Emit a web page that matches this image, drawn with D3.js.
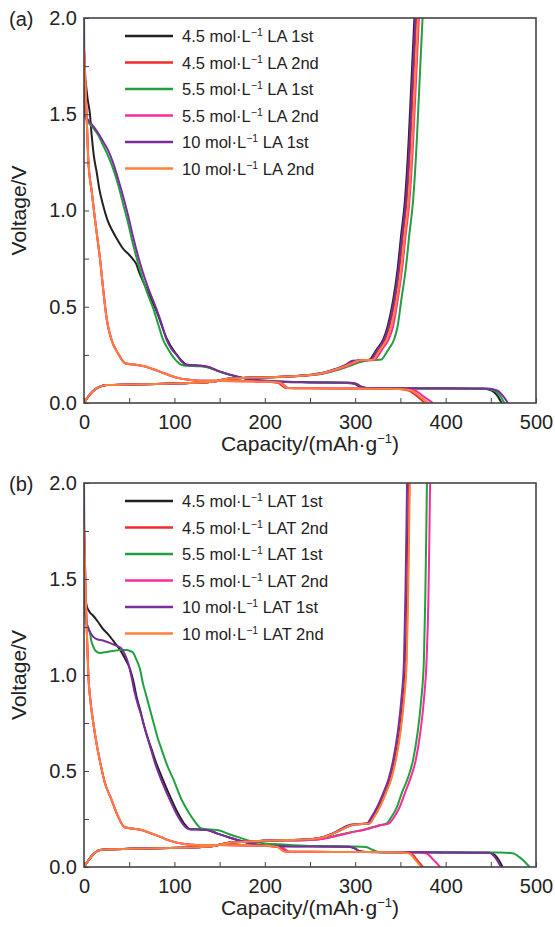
<!DOCTYPE html>
<html>
<head>
<meta charset="utf-8">
<script src="https://cdn.jsdelivr.net/npm/d3@7"></script>
<style>
  body { margin: 0; background: #fff; }
  text { font-family: "Liberation Sans", Arial, Helvetica, sans-serif; fill: #222; }
</style>
</head>
<body>
<div id="chart"></div>
<script>
// Axis ticks.
const xTicks = [0, 100, 200, 300, 400, 500];
const xMinor = [50, 150, 250, 350, 450];
const yTicks = [0, 0.5, 1.0, 1.5, 2.0];
const yMinor = [0.25, 0.75, 1.25, 1.75];

// Legend.
const concs = ["4.5", "4.5", "5.5", "5.5", "10", "10"];
const cycles = ["1st", "2nd", "1st", "2nd", "1st", "2nd"];
const colors = ["#222222", "#f02b2b", "#22a03e", "#ff2a9c", "#7b2d9c", "#ff7f3c"];

// (a) LA, [capacity mAh/g, voltage V].
const la45_1st_dis = [[0,1.72],[2,1.66],[4,1.58],[6.6,1.5],[8.5,1.39],[11,1.28],[14,1.2],[17,1.11],[21,1.03],[26,0.95],[32,0.89],[38,0.84],[43.5,0.8],[49,0.775],[54.5,0.745],[58,0.72],[61,0.68],[65,0.635],[72,0.565],[80,0.48],[91,0.34],[101,0.26],[108,0.22],[113,0.2],[120,0.196],[130,0.193],[137,0.187],[150,0.163],[169,0.137],[187,0.12],[210,0.112],[250,0.107],[290,0.104],[299,0.1],[305,0.085],[312,0.077],[350,0.076],[400,0.075],[442,0.074],[451,0.065],[457,0.04],[462,0]];
const la45_1st_chg = [[0,0],[5,0.035],[10,0.062],[17.7,0.085],[25,0.093],[50,0.096],[80,0.099],[106,0.102],[130,0.106],[143,0.11],[152,0.12],[161.5,0.127],[180,0.131],[198,0.133],[225,0.138],[250,0.146],[265,0.156],[276,0.171],[288,0.19],[298,0.212],[304,0.222],[316,0.225],[320,0.25],[324,0.28],[331,0.33],[336,0.4],[342,0.535],[347,0.7],[351,0.88],[355,1.05],[359,1.35],[362,1.65],[364,1.85],[366,2.05]];
const la45_2nd_dis = [[0,1.84],[1,1.74],[2,1.6],[3,1.48],[4.8,1.26],[8.5,1.1],[12,0.96],[15,0.85],[17.7,0.75],[21,0.6],[25,0.44],[30.5,0.327],[38,0.255],[46,0.205],[55,0.2],[65.6,0.192],[75,0.178],[84,0.163],[95,0.143],[106,0.128],[118,0.12],[128,0.116],[150,0.115],[180,0.113],[205,0.11],[215,0.105],[219,0.09],[223,0.078],[250,0.076],[300,0.075],[348,0.073],[359,0.065],[367,0.04],[377,0]];
const la45_2nd_chg = [[0,0],[5,0.035],[10,0.062],[17.7,0.085],[25,0.093],[50,0.096],[80,0.099],[106,0.102],[130,0.106],[143,0.11],[152,0.12],[161.5,0.127],[180,0.131],[198,0.133],[225,0.138],[250,0.146],[265,0.156],[276,0.171],[288,0.19],[298,0.21],[305,0.222],[318,0.225],[322,0.25],[326,0.28],[333,0.33],[338,0.4],[344,0.535],[349,0.7],[353,0.88],[357,1.05],[361,1.35],[364,1.65],[366,1.85],[368,2.05]];
const la55_1st_dis = [[0,1.56],[0.5,1.5],[3,1.47],[10,1.43],[16,1.39],[21,1.34],[27,1.28],[32,1.22],[38,1.13],[43.5,1.03],[49,0.93],[54.5,0.82],[62,0.69],[69,0.585],[76.7,0.49],[82,0.41],[87.7,0.327],[93,0.28],[97,0.25],[103,0.215],[108,0.197],[115,0.193],[125,0.191],[136,0.186],[150,0.163],[169,0.137],[187,0.121],[210,0.113],[250,0.108],[290,0.105],[301,0.1],[307,0.085],[314,0.077],[350,0.076],[400,0.075],[444,0.074],[454,0.065],[460,0.04],[465,0]];
const la55_1st_chg = [[0,0],[5,0.035],[10,0.062],[17.7,0.085],[25,0.093],[50,0.096],[80,0.099],[106,0.102],[130,0.106],[143,0.11],[152,0.12],[161.5,0.127],[180,0.131],[198,0.133],[225,0.137],[250,0.144],[265,0.153],[276,0.166],[288,0.183],[298,0.2],[308,0.215],[316,0.222],[329,0.226],[333,0.25],[337,0.28],[343,0.33],[347,0.4],[351,0.535],[356,0.7],[360,0.88],[364,1.05],[368,1.35],[371,1.65],[373,1.85],[375,2.05]];
const la55_2nd_dis = [[0,1.84],[1,1.74],[2,1.6],[3,1.48],[4.8,1.26],[8.5,1.1],[12,0.96],[15,0.85],[17.7,0.75],[21,0.6],[25,0.44],[30.5,0.327],[38,0.255],[46,0.205],[55,0.2],[65.6,0.192],[75,0.178],[84,0.163],[95,0.143],[106,0.128],[118,0.12],[128,0.116],[150,0.115],[180,0.113],[205,0.11],[218,0.105],[222,0.09],[226,0.078],[250,0.076],[300,0.075],[352,0.073],[366,0.065],[374,0.04],[386,0]];
const la55_2nd_chg = [[0,0],[5,0.035],[10,0.062],[17.7,0.085],[25,0.093],[50,0.096],[80,0.099],[106,0.102],[130,0.106],[143,0.11],[152,0.12],[161.5,0.127],[180,0.131],[198,0.133],[225,0.138],[250,0.145],[265,0.155],[276,0.169],[288,0.187],[298,0.206],[306,0.22],[322,0.225],[326,0.25],[330,0.28],[337,0.33],[342,0.4],[347,0.535],[352,0.7],[356,0.88],[360,1.05],[364,1.35],[367,1.65],[369,1.85],[371,2.05]];
const la10_1st_dis = [[0,2.05],[0.3,1.8],[0.6,1.5],[3,1.48],[10,1.44],[16,1.4],[21,1.36],[27,1.31],[32,1.25],[38,1.16],[43.5,1.07],[49,0.97],[54.5,0.86],[60,0.76],[65,0.68],[72,0.585],[80,0.49],[86,0.41],[91.5,0.327],[97,0.28],[102.5,0.25],[108,0.215],[113.6,0.197],[120,0.196],[130,0.193],[137,0.188],[150,0.164],[169,0.138],[187,0.121],[210,0.113],[250,0.108],[290,0.106],[300,0.101],[306,0.086],[313,0.078],[350,0.077],[400,0.076],[446,0.075],[457,0.065],[463,0.04],[469,0]];
const la10_1st_chg = [[0,0],[5,0.035],[10,0.062],[17.7,0.085],[25,0.093],[50,0.096],[80,0.099],[106,0.102],[130,0.106],[143,0.11],[152,0.12],[161.5,0.127],[180,0.131],[198,0.133],[225,0.138],[250,0.147],[265,0.158],[276,0.174],[288,0.195],[294,0.212],[297,0.22],[310,0.222],[317,0.226],[321,0.25],[325,0.28],[332,0.33],[337,0.4],[343,0.535],[348,0.7],[352,0.88],[356,1.05],[360,1.35],[363,1.65],[365,1.85],[367,2.05]];
const la10_2nd_dis = [[0,1.84],[1,1.74],[2,1.6],[3,1.48],[4.8,1.26],[8.5,1.1],[12,0.96],[15,0.85],[17.7,0.75],[21,0.6],[25,0.44],[30.5,0.327],[38,0.255],[46,0.205],[55,0.2],[65.6,0.192],[75,0.178],[84,0.163],[95,0.143],[106,0.128],[118,0.12],[128,0.116],[150,0.115],[180,0.113],[205,0.11],[217,0.105],[221,0.09],[225,0.078],[250,0.076],[300,0.075],[350,0.073],[362,0.065],[370,0.04],[381,0]];
const la10_2nd_chg = [[0,0],[5,0.035],[10,0.062],[17.7,0.085],[25,0.093],[50,0.096],[80,0.099],[106,0.102],[130,0.106],[143,0.11],[152,0.12],[161.5,0.127],[180,0.131],[198,0.133],[225,0.138],[250,0.146],[265,0.156],[276,0.171],[288,0.19],[298,0.21],[305,0.222],[320,0.225],[324,0.25],[328,0.28],[335,0.33],[340,0.4],[346,0.535],[351,0.7],[355,0.88],[359,1.05],[363,1.35],[366,1.65],[368,1.85],[370,2.05]];

// (b) LAT, [capacity mAh/g, voltage V].
const lat45_1st_dis = [[0,1.48],[1,1.42],[3,1.36],[6,1.33],[10,1.31],[15,1.28],[21,1.24],[27,1.21],[32,1.18],[40,1.13],[46,1.08],[51,1.03],[55,0.96],[58,0.89],[62,0.82],[65.6,0.75],[70,0.68],[75,0.61],[80,0.54],[86,0.47],[95,0.37],[104,0.28],[111,0.225],[117,0.198],[125,0.196],[136,0.193],[147,0.175],[158,0.158],[169,0.142],[180,0.128],[191,0.117],[202,0.111],[250,0.108],[294,0.106],[300,0.096],[305,0.082],[312,0.078],[350,0.077],[400,0.076],[449,0.074],[455,0.06],[459,0.035],[463,0]];
const lat45_1st_chg = [[0,0],[5,0.035],[10,0.065],[17.7,0.089],[28,0.092],[60,0.096],[106,0.1],[130,0.104],[143,0.109],[152,0.118],[161.5,0.127],[180,0.132],[198,0.137],[225,0.14],[250,0.144],[265,0.155],[276,0.175],[285,0.195],[294,0.215],[300,0.222],[315,0.227],[320,0.26],[326,0.31],[333,0.385],[339,0.46],[344,0.557],[349,0.7],[353,0.87],[356,1.08],[357.5,1.4],[358.5,1.7],[359.5,2.05]];
const lat45_2nd_dis = [[0,1.78],[1,1.6],[2,1.4],[3,1.25],[4.8,1.0],[7,0.87],[10.3,0.75],[14,0.64],[17.7,0.55],[23,0.44],[30.5,0.35],[37,0.27],[45,0.207],[53,0.2],[63.7,0.193],[73,0.177],[84,0.158],[93,0.14],[102.5,0.127],[113,0.119],[125,0.115],[150,0.114],[180,0.112],[205,0.109],[216,0.104],[220,0.09],[224,0.08],[250,0.079],[300,0.078],[348,0.077],[362,0.07],[368,0.04],[375,0]];
const lat45_2nd_chg = [[0,0],[5,0.035],[10,0.065],[17.7,0.089],[28,0.092],[60,0.096],[106,0.1],[130,0.104],[143,0.109],[152,0.118],[161.5,0.127],[180,0.132],[198,0.137],[225,0.14],[250,0.144],[265,0.155],[276,0.175],[285,0.195],[294,0.215],[300,0.222],[315.5,0.227],[320.5,0.26],[326.5,0.31],[333.5,0.385],[339.5,0.46],[344.5,0.557],[349.5,0.7],[353.5,0.87],[356.5,1.08],[358,1.4],[359,1.7],[360,2.05]];
const lat55_1st_dis = [[0,1.38],[1,1.32],[3,1.27],[6.6,1.22],[8,1.18],[10,1.15],[13,1.125],[17.7,1.115],[25,1.12],[32,1.125],[40,1.13],[47,1.13],[51,1.125],[54.5,1.115],[58,1.08],[62,1.03],[65,0.96],[69,0.89],[73,0.82],[77,0.75],[81,0.68],[86,0.61],[92,0.53],[99,0.455],[108,0.35],[115,0.29],[122,0.24],[130,0.2],[140,0.195],[150,0.19],[160,0.172],[169,0.158],[187,0.132],[200,0.123],[217,0.118],[250,0.11],[300,0.107],[312,0.104],[319,0.09],[327,0.077],[400,0.076],[460,0.075],[474,0.072],[482,0.05],[488,0.025],[493,0]];
const lat55_1st_chg = [[0,0],[5,0.035],[10,0.065],[17.7,0.089],[28,0.092],[60,0.096],[106,0.1],[130,0.104],[143,0.109],[152,0.118],[161.5,0.127],[180,0.132],[198,0.136],[225,0.138],[250,0.14],[265,0.148],[276,0.16],[294,0.18],[312,0.197],[325,0.215],[335,0.227],[340,0.26],[346,0.31],[351.5,0.385],[358,0.46],[364,0.557],[369,0.7],[373,0.87],[376,1.08],[377.5,1.4],[378.5,1.7],[379.5,2.05]];
const lat55_2nd_dis = [[0,1.78],[1,1.6],[2,1.4],[3,1.25],[4.8,1.0],[7,0.87],[10.3,0.75],[14,0.64],[17.7,0.55],[23,0.44],[30.5,0.35],[37,0.27],[45,0.207],[53,0.2],[63.7,0.193],[73,0.177],[84,0.158],[93,0.14],[102.5,0.127],[113,0.119],[125,0.115],[150,0.114],[180,0.112],[205,0.109],[219,0.104],[223,0.09],[227,0.08],[250,0.079],[300,0.078],[365,0.077],[379,0.07],[386,0.04],[394,0]];
const lat55_2nd_chg = [[0,0],[5,0.035],[10,0.065],[17.7,0.089],[28,0.092],[60,0.096],[106,0.1],[130,0.104],[143,0.109],[152,0.118],[161.5,0.127],[180,0.132],[198,0.136],[225,0.138],[250,0.14],[265,0.147],[276,0.158],[294,0.178],[313,0.198],[326,0.215],[337,0.226],[343,0.26],[349,0.31],[355,0.385],[361,0.46],[367,0.557],[372,0.7],[376,0.87],[379,1.08],[381,1.4],[382,1.7],[383,2.05]];
const lat10_1st_dis = [[0,2.05],[0.3,1.75],[0.8,1.42],[2,1.31],[3,1.27],[6,1.23],[10,1.2],[15,1.185],[21,1.18],[27,1.17],[32,1.16],[37,1.15],[41,1.14],[45,1.11],[49,1.06],[53,0.98],[56,0.91],[60,0.84],[63.7,0.785],[68,0.71],[73,0.63],[78,0.55],[84,0.47],[93,0.37],[102,0.28],[110,0.22],[116,0.197],[125,0.195],[135.7,0.193],[147,0.175],[158,0.158],[169,0.142],[180,0.127],[191,0.116],[202,0.11],[250,0.107],[294,0.106],[300,0.096],[305,0.082],[312,0.078],[350,0.077],[400,0.076],[448,0.074],[453,0.06],[457,0.035],[461,0]];
const lat10_1st_chg = [[0,0],[5,0.035],[10,0.065],[17.7,0.089],[28,0.092],[60,0.096],[106,0.1],[130,0.104],[143,0.109],[152,0.118],[161.5,0.127],[180,0.132],[198,0.137],[225,0.14],[250,0.145],[265,0.157],[276,0.178],[285,0.2],[292,0.217],[296,0.221],[313,0.227],[318,0.26],[324,0.31],[331,0.385],[337,0.46],[342,0.557],[347,0.7],[351,0.87],[354,1.08],[355.5,1.4],[356.5,1.7],[357.5,2.05]];
const lat10_2nd_dis = [[0,1.78],[1,1.6],[2,1.4],[3,1.25],[4.8,1.0],[7,0.87],[10.3,0.75],[14,0.64],[17.7,0.55],[23,0.44],[30.5,0.35],[37,0.27],[45,0.207],[53,0.2],[63.7,0.193],[73,0.177],[84,0.158],[93,0.14],[102.5,0.127],[113,0.119],[125,0.115],[150,0.114],[180,0.112],[205,0.109],[214,0.104],[218,0.09],[222,0.08],[250,0.079],[300,0.078],[346,0.077],[360,0.07],[366,0.04],[373,0]];
const lat10_2nd_chg = [[0,0],[5,0.035],[10,0.065],[17.7,0.089],[28,0.092],[60,0.096],[106,0.1],[130,0.104],[143,0.109],[152,0.118],[161.5,0.127],[180,0.132],[198,0.137],[225,0.14],[250,0.144],[265,0.155],[276,0.175],[285,0.195],[294,0.215],[300,0.222],[316,0.227],[321,0.26],[327,0.31],[334,0.385],[340,0.46],[345,0.557],[350,0.7],[354,0.87],[357,1.08],[358.5,1.4],[359.5,1.7],[360.5,2.05]];

// Panel layout.
const width = 555;
const height = 927;
const plotLeft = 84;
const plotRight = 536;

const panels = [
  {
    label: "(a)",
    elec: "LA",
    top: 18,
    bottom: 403,
    series: [
      [la45_1st_dis, la45_1st_chg],
      [la45_2nd_dis, la45_2nd_chg],
      [la55_1st_dis, la55_1st_chg],
      [la55_2nd_dis, la55_2nd_chg],
      [la10_1st_dis, la10_1st_chg],
      [la10_2nd_dis, la10_2nd_chg],
    ],
  },
  {
    label: "(b)",
    elec: "LAT",
    top: 483,
    bottom: 867,
    series: [
      [lat45_1st_dis, lat45_1st_chg],
      [lat45_2nd_dis, lat45_2nd_chg],
      [lat55_1st_dis, lat55_1st_chg],
      [lat55_2nd_dis, lat55_2nd_chg],
      [lat10_1st_dis, lat10_1st_chg],
      [lat10_2nd_dis, lat10_2nd_chg],
    ],
  },
];

const svg = d3
  .select("#chart")
  .append("svg")
  .attr("width", width)
  .attr("height", height);

const xScale = d3.scaleLinear().domain([0, 500]).range([plotLeft, plotRight]);

function drawPanel(p, idx) {
  const yScale = d3.scaleLinear().domain([0, 2]).range([p.bottom, p.top]);
  const g = svg.append("g").attr("class", `panel-${idx}`);

  // Clip.
  g.append("clipPath")
    .attr("id", `clip-${idx}`)
    .append("rect")
    .attr("x", plotLeft)
    .attr("y", p.top)
    .attr("width", plotRight - plotLeft)
    .attr("height", p.bottom - p.top);

  // Draw lines.
  const lineGen = d3
    .line()
    .x((d) => xScale(d[0]))
    .y((d) => yScale(d[1]))
    .curve(d3.curveMonotoneX);

  const lineGroup = g.append("g").attr("clip-path", `url(#clip-${idx})`);
  p.series.forEach((segs, i) => {
    segs.forEach((seg) => {
      lineGroup
        .append("path")
        .attr("d", lineGen(seg))
        .attr("fill", "none")
        .attr("stroke", colors[i])
        .attr("stroke-width", 2)
        .attr("stroke-linejoin", "round");
    });
  });

  // Draw x axis.
  const xAxisDraw = g
    .append("g")
    .attr("transform", `translate(0, ${p.bottom})`)
    .attr("color", "#444")
    .call(
      d3.axisBottom(xScale).tickValues(xTicks).tickSize(-5).tickPadding(12)
    );
  xAxisDraw.attr("font-size", 20);
  xAxisDraw.select(".domain").remove();

  g.append("g")
    .attr("transform", `translate(0, ${p.bottom})`)
    .attr("color", "#444")
    .call(d3.axisBottom(xScale).tickValues(xMinor).tickSize(-5).tickFormat(""))
    .call((s) => s.select(".domain").remove());

  // Draw y axis.
  const yAxisDraw = g
    .append("g")
    .attr("transform", `translate(${plotLeft}, 0)`)
    .attr("color", "#444")
    .call(
      d3
        .axisLeft(yScale)
        .tickValues(yTicks)
        .tickFormat(d3.format(".1f"))
        .tickSize(-5)
        .tickPadding(7)
    );
  yAxisDraw.attr("font-size", 20);
  yAxisDraw.select(".domain").remove();

  g.append("g")
    .attr("transform", `translate(${plotLeft}, 0)`)
    .attr("color", "#444")
    .call(d3.axisLeft(yScale).tickValues(yMinor).tickSize(-5).tickFormat(""))
    .call((s) => s.select(".domain").remove());

  // Frame.
  g.append("rect")
    .attr("x", plotLeft)
    .attr("y", p.top)
    .attr("width", plotRight - plotLeft)
    .attr("height", p.bottom - p.top)
    .attr("fill", "none")
    .attr("stroke", "#444")
    .attr("stroke-width", 1.6);

  // Axis titles.
  const xTitle = g
    .append("text")
    .attr("x", (plotLeft + plotRight) / 2)
    .attr("y", p.bottom + 48)
    .attr("text-anchor", "middle")
    .attr("font-size", 21);
  xTitle.append("tspan").text("Capacity/(mAh·g");
  xTitle.append("tspan").text("−1").attr("font-size", 13).attr("dy", -8);
  xTitle.append("tspan").text(")").attr("dy", 8);

  g.append("text")
    .attr("transform", `translate(26, ${(p.top + p.bottom) / 2}) rotate(-90)`)
    .attr("text-anchor", "middle")
    .attr("font-size", 21)
    .text("Voltage/V");

  // Panel label.
  g.append("text")
    .attr("x", 9)
    .attr("y", p.top + 8)
    .attr("font-size", 20)
    .text(p.label);

  // Legend.
  const legend = g.append("g").attr("class", "legend");
  concs.forEach((c, i) => {
    const y = p.top + 18 + i * 26.5;
    legend
      .append("line")
      .attr("x1", 125)
      .attr("x2", 173)
      .attr("y1", y)
      .attr("y2", y)
      .attr("stroke", colors[i])
      .attr("stroke-width", 2.5);
    const t = legend
      .append("text")
      .attr("x", 182)
      .attr("y", y + 6)
      .attr("font-size", 16.5);
    t.append("tspan").text(`${c} mol·L`);
    t.append("tspan").text("−1").attr("font-size", 10.5).attr("dy", -6);
    t.append("tspan").text(` ${p.elec} ${cycles[i]}`).attr("dy", 6);
  });
}

panels.forEach(drawPanel);
</script>
</body>
</html>
